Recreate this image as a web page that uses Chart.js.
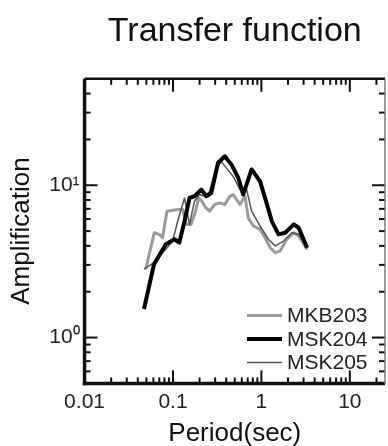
<!DOCTYPE html>
<html>
<head>
<meta charset="utf-8">
<script src="https://cdn.jsdelivr.net/npm/chart.js@4.4.1/dist/chart.umd.min.js"></script>
<style>
  html, body { margin: 0; padding: 0; background: #fff; overflow: hidden; }
  #wrap { width: 388px; height: 446px; }
</style>
</head>
<body>
<div id="wrap"><canvas id="tfChart" width="388" height="446"></canvas></div>
<script>
// series names (legend order)
const seriesNames = ["MKB203", "MSK204", "MSK205"];

// MKB203 - medium grey
const mkb203Period = [0.0492, 0.0538, 0.0616, 0.070, 0.0763, 0.0855, 0.113, 0.129, 0.141, 0.160, 0.178, 0.195,
  0.212, 0.232, 0.260, 0.296, 0.338, 0.386, 0.44, 0.48, 0.523, 0.571, 0.652, 0.711, 0.811, 0.966, 1.10,
  1.26, 1.43, 1.63, 1.94, 2.32, 2.64, 3.29];
const mkb203Amp = [2.81, 3.52, 4.88, 4.76, 4.52, 6.76, 6.93, 6.93, 5.53, 5.53, 6.59, 8.26,
  7.86, 7.18, 6.76, 7.48, 7.66, 7.48, 8.47, 8.69, 8.06, 7.48, 8.47, 6.11, 5.4, 5.13, 4.52,
  3.89, 3.61, 3.70, 4.42, 4.88, 4.64, 3.79];

// MSK204 - thick black
const msk204Period = [0.047, 0.061, 0.083, 0.104, 0.118, 0.135, 0.154, 0.175, 0.209, 0.238, 0.271, 0.323,
  0.385, 0.458, 0.547, 0.623, 0.775, 0.966, 1.10, 1.31, 1.56, 1.86, 2.32, 2.64, 3.29];
const msk204Amp = [1.54, 3.03, 4.1, 4.42, 4.2, 5.8, 8.26, 8.47, 9.37, 8.47, 8.9, 14.0,
  15.5, 13.7, 11.2, 8.7, 12.7, 10.6, 8.26, 5.82, 4.76, 4.88, 5.53, 5.26, 3.89];

// MSK205 - thin dark grey
const msk205Period = [0.047, 0.061, 0.083, 0.099, 0.113, 0.135, 0.154, 0.175, 0.200, 0.228, 0.260, 0.31,
  0.353, 0.40, 0.48, 0.60, 0.68, 0.775, 0.966, 1.20, 1.43, 1.78, 2.21, 2.64, 3.29];
const msk205Amp = [2.81, 3.11, 3.8, 4.3, 5.8, 8.26, 5.53, 7.86, 8.7, 8.47, 9.1, 13.3,
  14.3, 13.0, 11.4, 8.9, 9.4, 6.76, 5.4, 4.42, 4.0, 4.3, 4.88, 4.76, 3.89];

// axis ticks
const xTickValues = [0.01, 0.1, 1, 10];
const xTickLabels = ["0.01", "0.1", "1", "10"];
const yTickValues = [1, 10];
const yTickLabels = ["10\u2070", "10\u00b9"];

const fontFamily = "'Liberation Sans', Arial, Helvetica, sans-serif";
const lineColors = ["#9a9a9a", "#000000", "#555555"];
const lineWidths = [3, 4, 1.5];

function toPoints(periods, amps) {
    return periods.map((p, i) => ({ x: p, y: amps[i] }));
}

// inward ticks on all four sides plus the frame
const frameTicks = {
    id: 'frameTicks',
    afterDatasetsDraw(chart) {
        const ctx = chart.ctx;
        const a = chart.chartArea;
        const xs = chart.scales.x;
        const ys = chart.scales.y;
        ctx.save();
        ctx.strokeStyle = "#111";
        ctx.lineWidth = 2;

        const drawLine = (x1, y1, x2, y2) => {
            ctx.beginPath();
            ctx.moveTo(x1, y1);
            ctx.lineTo(x2, y2);
            ctx.stroke();
        };

        for (let d = -3; d <= 2; d++) {
            for (let m = 1; m <= 9; m++) {
                const v = m * Math.pow(10, d);
                const len = m === 1 ? 13 : 6;
                if (v > xs.min && v < xs.max) {
                    const px = xs.getPixelForValue(v);
                    drawLine(px, a.bottom, px, a.bottom - len);
                    drawLine(px, a.top, px, a.top + len);
                }
                if (v > ys.min && v < ys.max) {
                    const py = ys.getPixelForValue(v);
                    drawLine(a.left, py, a.left + len, py);
                    drawLine(a.right, py, a.right - len, py);
                }
            }
        }

        ctx.lineWidth = 3.5;
        drawLine(a.left, a.top, a.left, a.bottom + 1.75);
        drawLine(a.left - 1.75, a.bottom, a.right, a.bottom);
        ctx.lineWidth = 2.5;
        drawLine(a.left, a.top, a.right, a.top);
        ctx.lineWidth = 1.5;
        ctx.strokeStyle = "#777";
        drawLine(a.right, a.top, a.right, a.bottom);
        ctx.restore();
    }
};

// legend drawn inside the lower right of the plot
const insideLegend = {
    id: 'insideLegend',
    afterDraw(chart) {
        const ctx = chart.ctx;
        const a = chart.chartArea;
        ctx.save();
        ctx.font = "21px " + fontFamily;
        ctx.textBaseline = "middle";
        ctx.fillStyle = "#222";
        seriesNames.forEach((name, i) => {
            const yy = a.bottom - 68 + i * 23.5;
            ctx.strokeStyle = lineColors[i];
            ctx.lineWidth = lineWidths[i];
            ctx.beginPath();
            ctx.moveTo(a.right - 138, yy);
            ctx.lineTo(a.right - 103, yy);
            ctx.stroke();
            ctx.fillText(name, a.right - 98, yy + 1);
        });
        ctx.restore();
    }
};

const ctx = document.getElementById('tfChart').getContext('2d');
const chart = new Chart(ctx, {
    type: 'line',
    data: {
        datasets: [
            {
                label: seriesNames[0],
                data: toPoints(mkb203Period, mkb203Amp),
                borderColor: lineColors[0],
                borderWidth: lineWidths[0],
                order: 3
            },
            {
                label: seriesNames[1],
                data: toPoints(msk204Period, msk204Amp),
                borderColor: lineColors[1],
                borderWidth: lineWidths[1],
                order: 1
            },
            {
                label: seriesNames[2],
                data: toPoints(msk205Period, msk205Amp),
                borderColor: lineColors[2],
                borderWidth: lineWidths[2],
                order: 2
            }
        ]
    },
    options: {
        responsive: false,
        animation: false,
        elements: {
            point: { radius: 0 },
            line: { tension: 0, fill: false, borderJoinStyle: 'round' }
        },
        layout: { padding: { left: 0, right: 3, top: 0, bottom: 0 } },
        plugins: {
            legend: { display: false },
            tooltip: { enabled: false },
            title: {
                display: true,
                text: 'Transfer function',
                fullSize: false,
                color: '#111',
                font: { family: fontFamily, size: 34, weight: 'normal' },
                padding: { top: 11, bottom: 27 }
            }
        },
        scales: {
            x: {
                type: 'logarithmic',
                min: 0.01,
                max: 25,
                grid: { display: false, drawTicks: false },
                border: { display: false },
                afterBuildTicks: scale => {
                    scale.ticks = xTickValues.map(v => ({ value: v }));
                },
                ticks: {
                    autoSkip: false,
                    maxRotation: 0,
                    padding: 6,
                    color: '#222',
                    font: { family: fontFamily, size: 21 },
                    callback: (value, index) => xTickLabels[index]
                },
                title: {
                    display: true,
                    text: 'Period(sec)',
                    color: '#111',
                    font: { family: fontFamily, size: 26, lineHeight: 0.9 },
                    padding: { top: 2, bottom: 0 }
                }
            },
            y: {
                type: 'logarithmic',
                min: 0.5,
                max: 50,
                grid: { display: false, drawTicks: false },
                border: { display: false },
                afterBuildTicks: scale => {
                    scale.ticks = yTickValues.map(v => ({ value: v }));
                },
                ticks: {
                    autoSkip: false,
                    padding: 5,
                    color: '#222',
                    font: { family: fontFamily, size: 21 },
                    callback: (value, index) => yTickLabels[index]
                },
                title: {
                    display: true,
                    text: 'Amplification',
                    color: '#111',
                    font: { family: fontFamily, size: 26 },
                    padding: { top: 6, bottom: 7 }
                }
            }
        }
    },
    plugins: [frameTicks, insideLegend]
});
</script>
</body>
</html>
